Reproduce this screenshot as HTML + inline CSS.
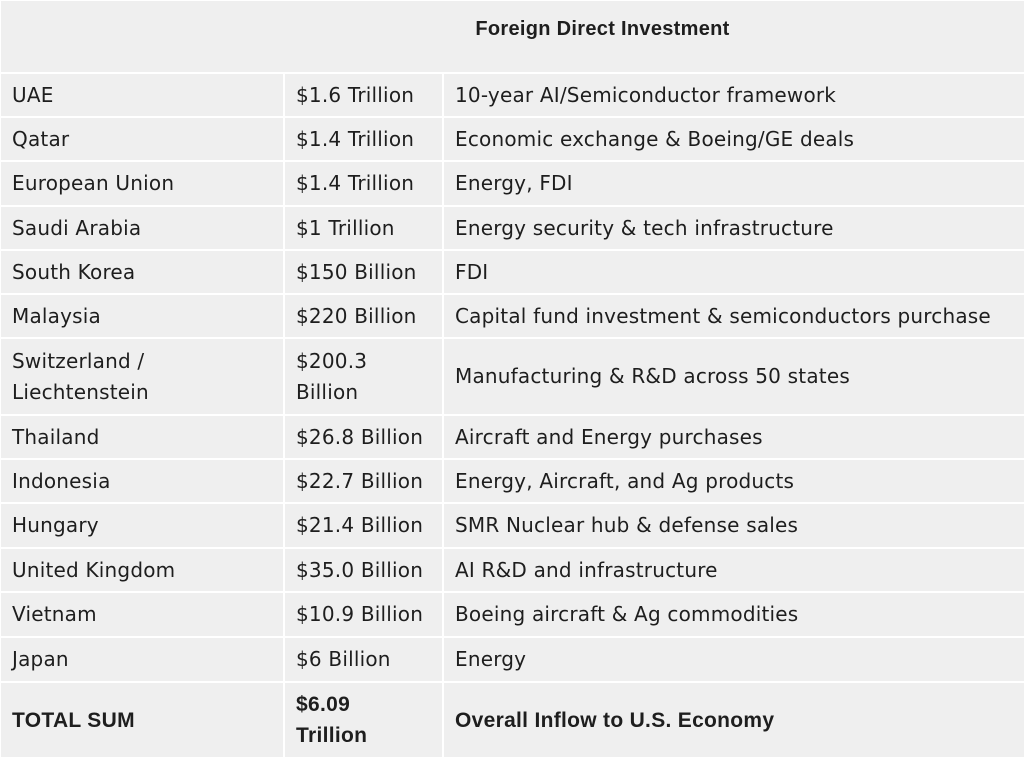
<!DOCTYPE html>
<html><head><style>
body{margin:0;width:1024px;height:758px;background:#fff;overflow:hidden;font-family:"DejaVu Sans",sans-serif;color:#1e1e1e}
table{border-collapse:collapse;position:absolute;left:-1px;top:-1px;width:1027px;table-layout:fixed}
td{background:#efefef;border:2px solid #fff;font-size:20px;letter-spacing:0.2px;padding:0 0 0 11px;line-height:31px;vertical-align:middle;white-space:nowrap}
td.b{font-weight:bold;font-family:"Liberation Sans",sans-serif;font-size:21px;letter-spacing:0.3px}
</style></head><body>
<table>
<colgroup><col style="width:284px"><col style="width:159px"><col></colgroup>
<tr style="height:73px"><td colspan="3" class="b" style="text-align:center;padding-left:180px;vertical-align:top;padding-top:13px;font-size:20px">Foreign Direct Investment</td></tr>
<tr style="height:44px"><td>UAE</td><td>$1.6 Trillion</td><td>10-year AI/Semiconductor framework</td></tr>
<tr style="height:44px"><td>Qatar</td><td>$1.4 Trillion</td><td>Economic exchange &amp; Boeing/GE deals</td></tr>
<tr style="height:45px"><td>European Union</td><td>$1.4 Trillion</td><td>Energy, FDI</td></tr>
<tr style="height:44px"><td>Saudi Arabia</td><td>$1 Trillion</td><td>Energy security &amp; tech infrastructure</td></tr>
<tr style="height:44px"><td>South Korea</td><td>$150 Billion</td><td>FDI</td></tr>
<tr style="height:44px"><td>Malaysia</td><td>$220 Billion</td><td>Capital fund investment &amp; semiconductors purchase</td></tr>
<tr style="height:77px"><td>Switzerland /<br>Liechtenstein</td><td>$200.3<br>Billion</td><td>Manufacturing &amp; R&amp;D across 50 states</td></tr>
<tr style="height:44px"><td>Thailand</td><td>$26.8 Billion</td><td>Aircraft and Energy purchases</td></tr>
<tr style="height:44px"><td>Indonesia</td><td>$22.7 Billion</td><td>Energy, Aircraft, and Ag products</td></tr>
<tr style="height:45px"><td>Hungary</td><td>$21.4 Billion</td><td>SMR Nuclear hub &amp; defense sales</td></tr>
<tr style="height:44px"><td>United Kingdom</td><td>$35.0 Billion</td><td>AI R&amp;D and infrastructure</td></tr>
<tr style="height:45px"><td>Vietnam</td><td>$10.9 Billion</td><td>Boeing aircraft &amp; Ag commodities</td></tr>
<tr style="height:45px"><td>Japan</td><td>$6 Billion</td><td>Energy</td></tr>
<tr style="height:76px"><td class="b">TOTAL SUM</td><td class="b">$6.09<br>Trillion</td><td class="b">Overall Inflow to U.S. Economy</td></tr>
</table>
</body></html>
